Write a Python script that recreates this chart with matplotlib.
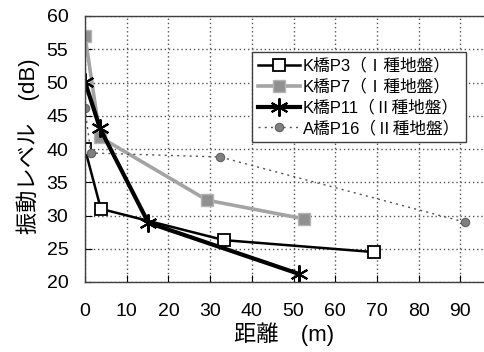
import matplotlib
matplotlib.use("Agg")
import matplotlib.pyplot as plt

plt.rcParams['font.family'] = ['Liberation Sans', 'Noto Sans CJK JP', 'DejaVu Sans']

# Distance (m) and vibration level (dB) for each pier
p3_x = [0, 3.8, 33.3, 69.3]
p3_y = [40.0, 31.0, 26.3, 24.5]

p7_x = [0, 3.6, 29.3, 52.5]
p7_y = [57.0, 41.8, 32.3, 29.5]

p11_x = [0, 3.6, 15.2, 51.4]
p11_y = [50.1, 43.1, 28.9, 21.2]

p16_x = [0, 1.4, 32.4, 91.1]
p16_y = [46.1, 39.4, 38.8, 29.0]

series_labels = ['K橋P3（Ⅰ種地盤）', 'K橋P7（Ⅰ種地盤）',
                 'K橋P11（Ⅱ種地盤）', 'A橋P16（Ⅱ種地盤）']

x_ticks = [0, 10, 20, 30, 40, 50, 60, 70, 80, 90]
y_ticks = [20, 25, 30, 35, 40, 45, 50, 55, 60]

fig = plt.figure(figsize=(4.84, 3.52), dpi=100)
ax = fig.add_axes([85 / 484, 70 / 352, 417 / 484, 266 / 352])

ax.plot(p3_x, p3_y, color='black', lw=1.8, marker='s', ms=8,
        mfc='white', mec='black', mew=1.3, label=series_labels[0])
ax.plot(p7_x, p7_y, color='#a4a4a4', lw=2.6, marker='s', ms=8,
        mfc='#909090', mec='#b4b4b4', mew=1, label=series_labels[1])
ax.plot(p11_x, p11_y, color='black', lw=3, marker=(6, 2, 0), ms=13,
        mec='black', mew=1.5, label=series_labels[2])
ax.plot(p16_x, p16_y, color='#555555', lw=1, ls=(0, (1.5, 3)), marker='o',
        ms=6, mfc='#808080', mec='#606060', mew=0.8, label=series_labels[3])

ax.set_xlim(0, 100)
ax.set_ylim(20, 60)
ax.set_xticks(x_ticks)
ax.set_yticks(y_ticks)
ax.tick_params(axis='both', direction='in', length=5, labelsize=14,
               colors='black')
ax.tick_params(axis='x', pad=15)
ax.tick_params(axis='y', pad=12)
ax.grid(True, color='#555555', ls=(0, (1, 2)), lw=1)
ax.set_axisbelow(True)
for s in ax.spines.values():
    s.set_color('#404040')
    s.set_linewidth(1)

ax.set_xlabel('距離　(m)', fontsize=16, va='top')
ax.xaxis.set_label_coords(0.477, -0.15)
ax.set_ylabel('振動レベル　(dB)', fontsize=16)
ax.yaxis.set_label_coords(-0.108, 0.51)

leg = ax.legend(loc='upper left', bbox_to_anchor=(0.4005, 0.8647),
                fontsize=12, frameon=True, fancybox=False, framealpha=1,
                edgecolor='#404040', borderpad=0.35, labelspacing=0.3,
                handlelength=2.5, handletextpad=0.2, borderaxespad=0)
leg.get_frame().set_linewidth(1)

fig.savefig('out.png', dpi=100)
